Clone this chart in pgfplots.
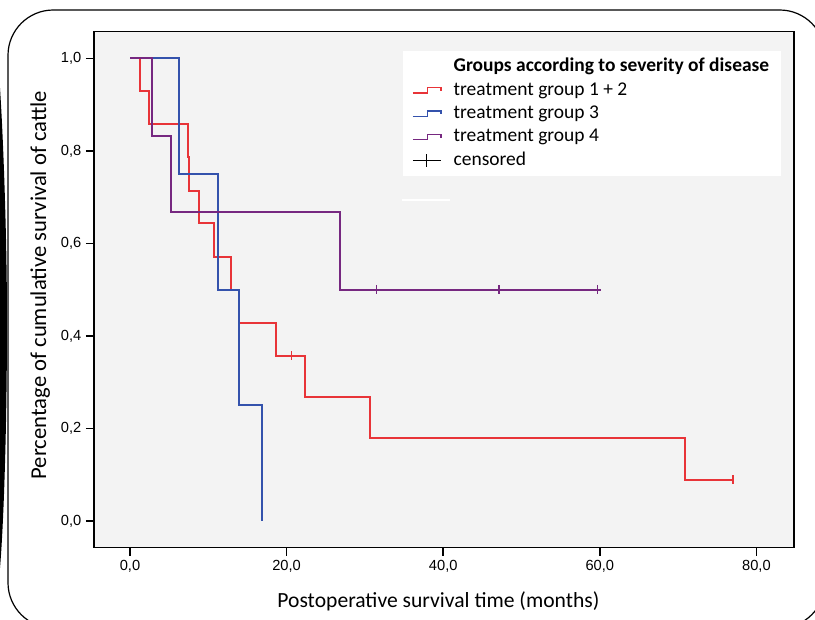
\documentclass[border=0pt]{standalone}
\usepackage{fontspec}
\setmainfont{Carlito}
\newfontfamily\arialf{Liberation Sans}
\usepackage{pgfplots}
\pgfplotsset{compat=1.18}
\definecolor{kmred}{RGB}{232,52,56}
\definecolor{kmblue}{RGB}{52,82,172}
\definecolor{kmpurple}{RGB}{118,40,128}
\definecolor{plotbg}{RGB}{243,243,243}
\pgfplotsset{
  kmstep/.style={legend image code/.code={
    \draw[##1, line width=1pt] (0pt,-2pt) -- (11pt,-2pt) -- (11pt,2pt) -- (21pt,2pt) -- (21pt,-0.5pt);}},
  kmcens/.style={legend image code/.code={
    \draw[##1, line width=0.8pt] (0pt,0pt) -- (21pt,0pt);
    \draw[##1, line width=0.8pt] (10.5pt,-5pt) -- (10.5pt,5pt);}},
}
\begin{document}
\begin{tikzpicture}
% frame of the reference image, in its pixels (1px = 0.75pt)
\begin{scope}[x=0.75pt, y=-0.75pt, shift={(-70.5pt,410.775pt)}]
  \useasboundingbox (0,0) rectangle (815,619);
  \begin{scope}
    \clip (0,0) rectangle (815,619);
    \draw[line width=0.9pt, rounded corners=34pt] (8,10) rectangle (825,628);
    \fill[black] (0,88) .. controls (4,150) and (7,250) .. (7,320)
      .. controls (7,420) and (4,520) .. (0,568) -- cycle;
  \end{scope}
\end{scope}

\begin{axis}[
  at={(0,0)}, anchor=south west,
  scale only axis, width=525pt, height=387pt,
  xmin=-4.6, xmax=84.8, ymin=-0.0577, ymax=1.0575,
  axis background/.style={fill=plotbg},
  axis line style={line width=1.1pt, black},
  tick pos=left, tick align=outside,
  major tick length=6pt, tick style={line width=1.1pt, black},
  xtick={0,20,40,60,80}, ytick={0,0.2,0.4,0.6,0.8,1},
  ticklabel style={font=\arialf\fontsize{11}{13}\selectfont,
    /pgf/number format/fixed, /pgf/number format/fixed zerofill,
    /pgf/number format/precision=1, /pgf/number format/use comma,
    /pgf/number format/assume math mode=true},
  xlabel={Postoperative survival time (months)},
  xlabel style={at={(axis description cs:0.492,-0.1047)}, anchor=center,
    font=\fontsize{16.2}{19}\selectfont},
  ylabel={Percentage of cumulative survival of cattle},
  ylabel style={at={(axis description cs:-0.077,0.509)}, anchor=center,
    font=\fontsize{17}{20}\selectfont},
  legend cell align=left,
  legend style={at={(axis description cs:0.441,0.9626)}, anchor=north west,
    fill=white, draw=none, font=\fontsize{14.6}{17}\selectfont,
    row sep=0pt, column sep=7pt, inner xsep=7pt, inner ysep=3pt,
    nodes={text height=10.5pt, text depth=3pt, inner ysep=2pt}},
]
\addlegendimage{empty legend}
\addlegendentry{\textbf{Groups according to severity of disease}}

% treatment group 1 + 2
\addplot[const plot, kmred, line width=1.5pt, kmstep] coordinates {
  (0,1) (1.3,0.929) (2.4,0.857) (7.35,0.786) (7.55,0.714) (8.85,0.643)
  (10.7,0.571) (12.9,0.5) (13.95,0.429) (18.6,0.357) (22.3,0.268)
  (30.6,0.179) (70.9,0.089) (77.0,0.089)
};
\addlegendentry{treatment group 1 + 2}

% treatment group 3
\addplot[const plot, kmblue, line width=1.5pt, kmstep] coordinates {
  (0,1) (6.2,0.75) (11.3,0.5) (13.95,0.25) (16.9,0)
};
\addlegendentry{treatment group 3}

% treatment group 4
\addplot[const plot, kmpurple, line width=1.5pt, kmstep] coordinates {
  (0,1) (2.85,0.833) (5.2,0.667) (26.8,0.5) (60.2,0.5)
};
\addlegendentry{treatment group 4}

% censored cases
\addplot[only marks, mark=|, mark size=3.5pt, kmred, line width=1.2pt, forget plot]
  coordinates {(20.6,0.357) (77.0,0.089)};
\addplot[only marks, mark=|, mark size=3.5pt, kmpurple, line width=1.2pt, forget plot]
  coordinates {(31.5,0.5) (47.1,0.5) (59.7,0.5)};
\addlegendimage{black, kmcens}
\addlegendentry{censored}
\end{axis}

\begin{scope}[x=0.75pt, y=-0.75pt, shift={(-70.5pt,410.775pt)}]
  \draw[white, line width=1.2pt] (402,200) -- (450,200);
\end{scope}
\end{tikzpicture}
\end{document}
